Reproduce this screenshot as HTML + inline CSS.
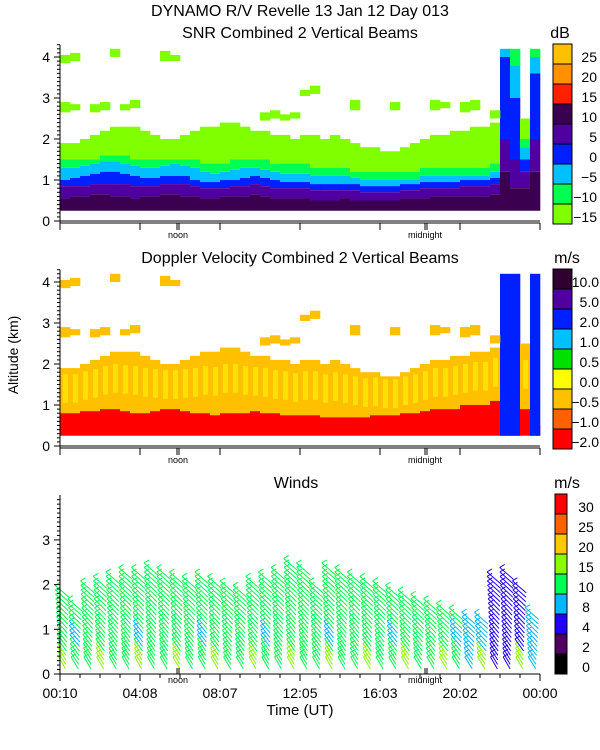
<!DOCTYPE html>
<html><head><meta charset="utf-8">
<style>
body{margin:0;background:#fff;}
svg{display:block;font-family:"Liberation Sans",sans-serif;}
text{fill:#000;}
</style></head>
<body>
<svg id="chart" width="600" height="750" viewBox="0 0 600 750">
<text x="300" y="16" text-anchor="middle" font-size="16">DYNAMO R/V Revelle  13 Jan 12 Day 013</text>
<text x="300" y="38" text-anchor="middle" font-size="16">SNR Combined 2 Vertical Beams</text>
<text x="560" y="38" text-anchor="middle" font-size="16">dB</text>
<text x="300" y="263" text-anchor="middle" font-size="16">Doppler Velocity Combined 2 Vertical Beams</text>
<text x="567" y="263" text-anchor="middle" font-size="16">m/s</text>
<text x="296" y="488" text-anchor="middle" font-size="16">Winds</text>
<text x="567" y="488" text-anchor="middle" font-size="16">m/s</text>
<text x="18" y="355" text-anchor="middle" font-size="14" transform="rotate(-90 18 355)">Altitude (km)</text>
<text x="300" y="715" text-anchor="middle" font-size="15">Time (UT)</text>
<g id="layers"></g>
</svg>
<script>
// ---------- data ----------
const snrLimeTop=[1.9,1.9,2.0,2.1,2.2,2.3,2.3,2.3,2.2,2.1,2.0,2.0,2.1,2.2,2.3,2.3,2.4,2.4,2.3,2.2,2.2,2.1,2.1,2.0,2.1,2.1,2.0,2.1,2.0,1.9,1.8,1.8,1.7,1.7,1.8,1.9,2.0,2.1,2.1,2.2,2.2,2.3,2.3,2.4,4.2,4.2,2.5,4.2];
const snrGreenTop=[1.5,1.5,1.5,1.5,1.6,1.6,1.6,1.5,1.5,1.5,1.5,1.5,1.5,1.5,1.4,1.4,1.4,1.5,1.5,1.5,1.5,1.4,1.4,1.4,1.4,1.3,1.3,1.3,1.3,1.2,1.2,1.2,1.2,1.2,1.2,1.2,1.3,1.3,1.3,1.3,1.3,1.3,1.3,1.4,4.2,4.2,2.0,4.2];
const snrCyanTop=[1.3,1.3,1.35,1.4,1.45,1.45,1.4,1.35,1.3,1.3,1.35,1.4,1.35,1.3,1.2,1.15,1.2,1.25,1.3,1.3,1.25,1.2,1.15,1.15,1.15,1.1,1.1,1.1,1.1,1.05,1.0,1.0,1.0,1.0,1.0,1.0,1.1,1.1,1.1,1.1,1.1,1.1,1.1,1.2,4.2,3.8,1.8,4.0];
const snrBlueTop=[1.0,1.05,1.1,1.15,1.2,1.2,1.15,1.1,1.05,1.05,1.1,1.1,1.1,1.0,0.95,0.95,1.0,1.0,1.05,1.1,1.05,1.0,0.95,0.95,0.95,0.9,0.9,0.9,0.9,0.9,0.85,0.85,0.85,0.85,0.9,0.9,0.95,0.95,0.95,0.95,1.0,1.0,1.0,1.05,4.0,3.0,1.5,3.6];
const snrPurpleTop=[0.85,0.85,0.85,0.9,0.9,0.9,0.9,0.85,0.85,0.85,0.9,0.9,0.9,0.85,0.8,0.8,0.8,0.85,0.85,0.9,0.85,0.8,0.8,0.8,0.8,0.75,0.75,0.75,0.75,0.75,0.7,0.7,0.7,0.7,0.75,0.75,0.8,0.8,0.8,0.8,0.85,0.85,0.85,0.9,2.0,1.5,1.2,2.0];
const snrDarkTop=[0.55,0.6,0.6,0.65,0.65,0.6,0.6,0.55,0.6,0.6,0.65,0.65,0.6,0.6,0.55,0.55,0.6,0.6,0.6,0.65,0.6,0.55,0.55,0.55,0.55,0.5,0.5,0.5,0.55,0.5,0.5,0.5,0.5,0.5,0.55,0.55,0.55,0.6,0.6,0.6,0.6,0.6,0.6,0.65,1.2,0.8,0.8,1.2];
const snrPatches=[[0,2.65,2.9],[1,2.7,2.85],[3,2.65,2.85],[4,2.7,2.9],[6,2.7,2.85],[7,2.75,2.95],[0,3.85,4.05],[1,3.9,4.1],[5,4.0,4.2],[10,3.9,4.15],[11,3.9,4.05],[20,2.45,2.65],[21,2.5,2.7],[22,2.45,2.6],[23,2.5,2.65],[24,3.05,3.2],[25,3.1,3.3],[29,2.7,2.95],[33,2.7,2.9],[37,2.7,2.95],[38,2.75,2.9],[40,2.65,2.9],[41,2.7,2.95],[43,2.5,2.7]];
const dopRedTop=[0.8,0.8,0.85,0.85,0.9,0.9,0.85,0.8,0.8,0.85,0.9,0.9,0.85,0.8,0.8,0.75,0.8,0.8,0.8,0.85,0.8,0.8,0.75,0.75,0.75,0.75,0.7,0.7,0.7,0.7,0.7,0.75,0.75,0.75,0.8,0.8,0.85,0.9,0.9,0.9,1.0,1.0,1.0,1.1,0.5,0.5,0.9,0.5];
const dopAmberTop=[1.9,1.9,2.0,2.1,2.2,2.3,2.3,2.3,2.2,2.1,2.0,2.0,2.1,2.2,2.3,2.3,2.4,2.4,2.3,2.2,2.2,2.1,2.1,2.0,2.1,2.1,2.0,2.1,2.0,1.9,1.8,1.8,1.7,1.7,1.8,1.9,2.0,2.1,2.1,2.2,2.2,2.3,2.3,2.4,0.5,0.5,2.5,0.5];
const dopBlueTop=[0,0,0,0,0,0,0,0,0,0,0,0,0,0,0,0,0,0,0,0,0,0,0,0,0,0,0,0,0,0,0,0,0,0,0,0,0,0,0,0,0,0,0,0,4.2,4.2,0,4.2];
const windTop=[1.9,1.6,2.0,2.1,2.2,2.3,2.3,2.4,2.3,2.2,2.1,2.2,2.1,2.0,1.9,2.1,2.2,2.3,2.5,2.4,2.0,2.4,2.3,2.2,2.1,2.0,1.9,1.8,1.7,1.6,1.5,1.4,1.3,1.3,2.2,2.3,2.0,1.4];
const windSpeed=[12,12,13,13,14,14,14,14,13,12,12,12,12,12,11,12,12,12,11,11,11,11,11,11,11,11,11,11,11,11,10,10,9,9,6,6,5,9];
const snrColors=["#80ff00","#00ff50","#00c0ff","#0020ff","#5000a0","#3c0050","#ff2000","#ff9000","#ffc000"];
const snrLabels=["\u221215","\u221210","\u22125","0","5","10","15","20","25"];
const dopColors=["#ff0000","#ff6000","#ffc000","#ffff00","#00e000","#00c0ff","#0020ff","#5000a0","#300030"];
const dopLabels=["\u22122.0","\u22121.0","\u22120.5","0.0","0.5","1.0","2.0","5.0","10.0"];
const windColors=["#000000","#500060","#2000ff","#00b8ff","#00ff50","#88ff00","#ffc800","#ff6000","#ff0000"];
const windLabels=["0","2","4","8","10","15","20","25","30"];
const windBins=[0,2,4,8,10,15,20,25,30];
const xTickLabels=["00:10","04:08","08:07","12:05","16:03","20:02","00:00"];

// ---------- helpers ----------
const NS="http://www.w3.org/2000/svg";
const root=document.getElementById('layers');
function mk(tag,attrs,parent){const e=document.createElementNS(NS,tag);for(const k in attrs)e.setAttribute(k,attrs[k]);(parent||root).appendChild(e);return e;}
const X0=60,X1=540,NC=48,CW=(X1-X0)/NC;
function colX(i){return X0+i*CW;}
function yTop(h){return 221-h*41;}
function yMid(h){return 446-h*41;}
function yWind(h){return 674-h*44.7;}
const BASE=0.25;

function band(g,yf,i,lo,hi,color){
  if(hi<=lo)return;
  const r=mk('rect',{x:colX(i),y:yf(hi),width:CW+0.3,height:yf(lo)-yf(hi),fill:color},g);
  
  
}

// ---------- SNR panel ----------
const gS=mk('g',{});


for(let i=0;i<NC;i++){
  band(gS,yTop,i,snrGreenTop[i],snrLimeTop[i],snrColors[0]);
  band(gS,yTop,i,snrCyanTop[i],snrGreenTop[i],snrColors[1]);
  band(gS,yTop,i,snrBlueTop[i],snrCyanTop[i],snrColors[2]);
  band(gS,yTop,i,snrPurpleTop[i],snrBlueTop[i],snrColors[3]);
  band(gS,yTop,i,snrDarkTop[i],snrPurpleTop[i],snrColors[4]);
  band(gS,yTop,i,BASE,snrDarkTop[i],snrColors[5]);
}
snrPatches.forEach(p=>band(gS,yTop,p[0],p[1],p[2],snrColors[0]));

// ---------- Doppler panel ----------
const gD=mk('g',{});


for(let i=0;i<NC;i++){
  band(gD,yMid,i,dopRedTop[i],dopAmberTop[i],dopColors[2]);
  const mid=(dopRedTop[i]+dopAmberTop[i])/2;
  if(dopAmberTop[i]>dopRedTop[i]){
    const r=mk('rect',{x:colX(i)+CW*0.3,y:yMid(mid+0.4),width:CW*0.5,height:yMid(mid-0.3)-yMid(mid+0.4),fill:'#ffe000'},gD);
    
    
  }
  band(gD,yMid,i,BASE,dopRedTop[i],dopColors[0]);
  band(gD,yMid,i,BASE,dopBlueTop[i],dopColors[6]);
}
snrPatches.forEach(p=>band(gD,yMid,p[0],p[1],p[2],dopColors[2]));

// ---------- axes for heatmap panels ----------
function heatAxes(yf,name,zero){
  const g=mk('g',{stroke:'#000','stroke-width':1,fill:'none'});
  
  
  mk('line',{x1:X0,y1:yf(4.3),x2:X0,y2:zero+2},g);
  mk('line',{x1:X0,y1:zero,x2:X1,y2:zero},g);
  mk('line',{x1:X0,y1:zero+2,x2:X1,y2:zero+2},g);
  for(let k=0;k<=43;k++){const y=yf(k/10);mk('line',{x1:X0-(k%10===0?6:3),y1:y,x2:X0,y2:y},g);}
  for(let k=0;k<=6;k++){const x=X0+k*80;mk('line',{x1:x,y1:zero+2,x2:x,y2:zero+9},g);}
  [177,179,425,427].forEach(x=>mk('line',{x1:x,y1:zero+2,x2:x,y2:zero+9},g));
  for(let k=0;k<=4;k++){const t=mk('text',{x:X0-10,y:yf(k)+5,'text-anchor':'end','font-size':14,stroke:'none',fill:'#000'},g);t.textContent=k;
    
    }
  const n=mk('text',{x:178,y:zero+17,'text-anchor':'middle','font-size':9,stroke:'none',fill:'#000'},g);n.textContent='noon';
  
  
  const m=mk('text',{x:425,y:zero+17,'text-anchor':'middle','font-size':9,stroke:'none',fill:'#000'},g);m.textContent='midnight';
  
  
}
heatAxes(yTop,'snr-axes',221);
heatAxes(yMid,'doppler-axes',446);

// ---------- colorbars ----------
function colorbar(x,top,w,colors,labels,name,lx,anchor){
  const g=mk('g',{});
  
  
  const n=colors.length,sh=180/n;
  colors.forEach((c,k)=>{const y=top+180-(k+1)*sh;
    const r=mk('rect',{x:x,y:y,width:w,height:sh,fill:c,stroke:'#000','stroke-width':1},g);
    
    
    const t=mk('text',{x:lx,y:y+sh-2,'text-anchor':anchor,'font-size':14},g);t.textContent=labels[k];
    
    
  });
}
colorbar(553,44,19,snrColors,snrLabels,'snr-colorbar',597,'end');
colorbar(553,269,19,dopColors,dopLabels,'doppler-colorbar',599,'end');
colorbar(555,494,12,windColors,windLabels,'winds-colorbar',586,'middle');

// ---------- winds ----------
function speedColor(s){let k=0;for(let j=0;j<windBins.length;j++)if(s>=windBins[j])k=j;return windColors[k];}
const gW=mk('g',{'stroke-width':1,fill:'none'});


const WX0=62,WDX=(532-62)/(windTop.length-1);
windTop.forEach((top,i)=>{
  const x=WX0+i*WDX;
  for(let h=0.25;h<=top+1e-6;h+=0.1){
    const y=yWind(h);
    let s=windSpeed[i];
    if(h<0.55&&i%3===0)s=15;
    if(h>0.7&&h<1.1&&i%5===1)s=Math.min(s,8);
    const c=speedColor(s);
    const dx=3+(h/top)*4;
    const b=mk('path',{d:`M${x-dx},${y-6} L${x+dx},${y+6} M${x-dx},${y-6} L${x-dx+5},${y-9}`,stroke:c},gW);
    
    
  }
});
// wind axes
const gA=mk('g',{stroke:'#000','stroke-width':1,fill:'none'});


mk('line',{x1:X0,y1:495,x2:X0,y2:674},gA);
mk('line',{x1:X0,y1:674,x2:X1,y2:674},gA);
for(let k=0;k<=39;k++){const y=yWind(k/10);mk('line',{x1:X0-(k%10===0?6:3),y1:y,x2:X0,y2:y},gA);}
for(let k=0;k<=24;k++){const x=X0+k*20;mk('line',{x1:x,y1:674,x2:x,y2:674+(k%4===0?7:4)},gA);}
[177,179,425,427].forEach(x=>mk('line',{x1:x,y1:668,x2:x,y2:674},gA));
for(let k=0;k<=3;k++){const t=mk('text',{x:X0-10,y:yWind(k)+5,'text-anchor':'end','font-size':14,stroke:'none',fill:'#000'},gA);t.textContent=k;
  
  }
xTickLabels.forEach((l,k)=>{const t=mk('text',{x:X0+k*80,y:698,'text-anchor':'middle','font-size':14,stroke:'none',fill:'#000'},gA);t.textContent=l;
  
  });
const wn=mk('text',{x:178,y:683,'text-anchor':'middle','font-size':9,stroke:'none',fill:'#000'},gA);wn.textContent='noon';


const wm=mk('text',{x:425,y:683,'text-anchor':'middle','font-size':9,stroke:'none',fill:'#000'},gA);wm.textContent='midnight';


</script>
</body></html>
